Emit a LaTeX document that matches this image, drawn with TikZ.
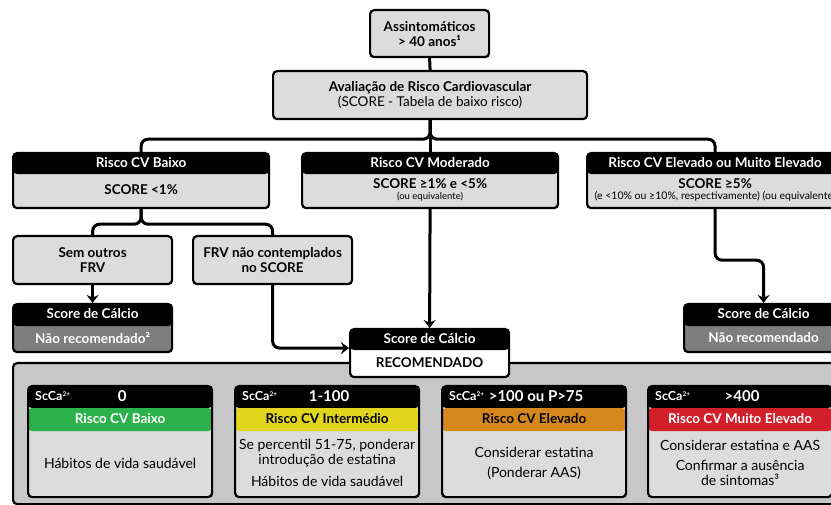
\documentclass[tikz,border=0pt]{standalone}
\usepackage{fontspec}
\setmainfont{Lato}
\usepackage{xcolor}
\usepackage{tikz}
\usetikzlibrary{arrows.meta,calc,positioning}
\definecolor{boxgray}{HTML}{DCDCDC}
\definecolor{panelgray}{HTML}{C7C7C7}
\definecolor{darkgray}{HTML}{7E7E7E}
\definecolor{riskgreen}{HTML}{2BB24C}
\definecolor{riskyellow}{HTML}{E2D51E}
\definecolor{riskorange}{HTML}{D6881F}
\definecolor{riskred}{HTML}{D2202B}
\newcommand{\headBox}[6]
{
	\node [box, fill=#6, minimum width=#3, minimum height=#4,
	path picture={\fill[black] (path picture bounding box.north west) rectangle ([yshift=-#5]path picture bounding box.north east);}
	](#1) at #2 {};
}
\newcommand{\scoreBox}[7]
{
	\node [box, minimum width=184pt, minimum height=111pt,
	path picture={
		\fill[black] (path picture bounding box.north west) rectangle ([yshift=-22pt]path picture bounding box.north east);
		\fill[#3] ([yshift=-22pt]path picture bounding box.north west) rectangle ([yshift=-45pt]path picture bounding box.north east);
	}](#1) at (#2,385) {};
	\node [sctext, anchor=west](#1-sc) at ([xshift=8pt,yshift=-11pt]#1.north west) {ScCa\raisebox{4pt}{\fontsize{6.5}{7}\selectfont 2+}};
	\node [valtext](#1-val) at ([xshift=2pt,yshift=-11pt]#1.north) {#5};
	\node [hdtext, text=#4](#1-band) at ([yshift=-33.5pt]#1.north) {#6};
	\node [bodytext](#1-body) at ([yshift=-78pt]#1.north) {#7};
}
\begin{document}
\begin{tikzpicture}[x=1pt,y=-1pt,>={Stealth[length=8pt,width=12pt]},
	box/.style={draw, line width=2.2pt, rounded corners=4pt, fill=boxgray, inner sep=0pt, anchor=north west, align=center},
	conn/.style={line width=3pt, rounded corners=7pt},
	hdtext/.style={font=\bfseries\fontsize{13.5}{15}\selectfont, text=white, inner sep=0pt},
	boldtext/.style={font=\bfseries\fontsize{13.5}{15}\selectfont, align=center, inner sep=0pt},
	bodytext/.style={font=\fontsize{14}{15}\selectfont, align=center, inner sep=0pt},
	sctext/.style={font=\bfseries\fontsize{12.5}{14}\selectfont, text=white, inner sep=0pt},
	valtext/.style={font=\bfseries\fontsize{15}{17}\selectfont, text=white, inner sep=0pt}]
\useasboundingbox (0,0) rectangle (831,505);

\node [box, fill=panelgray, minimum width=830pt, minimum height=141pt](panel) at (12,362) {};

\node [box, boldtext, minimum width=119pt, minimum height=47pt](assint) at (369,9) {Assintomáticos\\> 40 anos¹};
\node [box, bodytext, font=\fontsize{13.5}{15}\selectfont, minimum width=314pt, minimum height=48pt](aval) at (272,70) {{\bfseries Avaliação de Risco Cardiovascular}\\(SCORE - Tabela de baixo risco)};

\headBox{baixo}{(12,152)}{256pt}{55pt}{21pt}{boxgray}
\headBox{moder}{(301,152)}{256pt}{55pt}{21pt}{boxgray}
\headBox{elev}{(586,152)}{256pt}{55pt}{21pt}{boxgray}
\node [hdtext](baixo-h) at ([yshift=-10.5pt]baixo.north) {Risco CV Baixo};
\node [hdtext](moder-h) at ([yshift=-10.5pt]moder.north) {Risco CV Moderado};
\node [hdtext](elev-h) at ([yshift=-10.5pt]elev.north) {Risco CV Elevado ou Muito Elevado};
\node [boldtext](baixo-b) at ([yshift=-38pt]baixo.north) {SCORE <1\%};
\node [boldtext](moder-b) at ([yshift=-38pt]moder.north) {SCORE ≥1\% e <5\%\\[-4pt]{\mdseries\fontsize{9.5}{10}\selectfont (ou equivalente)}};
\node [boldtext](elev-b) at ([yshift=-38pt]elev.north) {SCORE ≥5\%\\[-4pt]{\mdseries\fontsize{10.5}{11}\selectfont (e <10\% ou ≥10\%, respectivamente) (ou equivalente)}};

\node [box, boldtext, minimum width=159pt, minimum height=48pt](semfrv) at (12,235) {Sem outros\\FRV};
\node [box, boldtext, minimum width=159pt, minimum height=48pt](frv) at (192,235) {FRV não contemplados\\no SCORE};

\headBox{scoreL}{(12,303)}{159pt}{48pt}{22pt}{darkgray}
\headBox{recom}{(349,328)}{159pt}{48pt}{21pt}{white}
\headBox{scoreR}{(683,303)}{159pt}{48pt}{22pt}{darkgray}
\node [hdtext](scoreL-h) at ([yshift=-11pt]scoreL.north) {Score de Cálcio};
\node [hdtext](recom-h) at ([yshift=-10.5pt]recom.north) {Score de Cálcio};
\node [hdtext](scoreR-h) at ([yshift=-11pt]scoreR.north) {Score de Cálcio};
\node [hdtext](scoreL-b) at ([yshift=-35pt]scoreL.north) {Não recomendado²};
\node [hdtext, text=black](recom-b) at ([yshift=-34.5pt]recom.north) {RECOMENDADO};
\node [hdtext](scoreR-b) at ([yshift=-35pt]scoreR.north) {Não recomendado};

\scoreBox{ca0}{27}{riskgreen}{white}{0}{Risco CV Baixo}{Hábitos de vida saudável}
\scoreBox{ca1}{234}{riskyellow}{black}{1-100}{Risco CV Intermédio}{Se percentil 51-75, ponderar\\introdução de estatina\\[7pt]Hábitos de vida saudável}
\scoreBox{ca2}{441}{riskorange}{black}{>100 ou P>75}{Risco CV Elevado}{Considerar estatina\\[5pt](Ponderar AAS)}
\scoreBox{ca3}{647}{riskred}{white}{>400}{Risco CV Muito Elevado}{Considerar estatina e AAS\\[5pt]Confirmar a ausência\\de sintomas³}

\draw[conn] (assint.south) -- (aval.north);
\draw[conn] (aval.south) -- (moder.north);
\draw[conn] (aval.south) -- ++(0,19) -| (baixo.north);
\draw[conn] (aval.south) -- ++(0,19) -| (elev.north);
\draw[conn] (baixo.south) -- ++(0,15) -| (semfrv.north);
\draw[conn] (baixo.south) -- ++(0,15) -| (frv.north);
\draw[conn,->] (semfrv.south) -- (scoreL.north);
\draw[conn,->] (frv.south) |- ([yshift=5pt]recom.west);
\draw[conn,->] (moder.south) -- (recom.north);
\draw[conn,->] (elev.south) -- ++(0,51) -| (scoreR.north);
\end{tikzpicture}
\end{document}
